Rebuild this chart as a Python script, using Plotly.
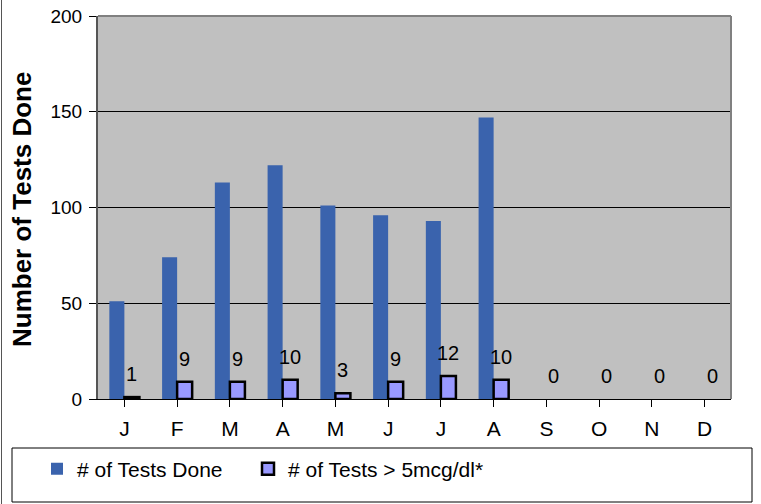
import plotly.graph_objects as go

months = ["J", "F", "M", "A", "M", "J", "J", "A", "S", "O", "N", "D"]
tests_done = [51, 74, 113, 122, 101, 96, 93, 147, None, None, None, None]
tests_high = [1, 9, 9, 10, 3, 9, 12, 10, 0, 0, 0, 0]
y_ticks = [0, 50, 100, 150, 200]

x = list(range(len(months)))

W, H = 761, 504
l, r, t, b = 98, 30, 16, 105
pw, ph = W - l - r, H - t - b
bargap = 0.43
half_bar = (1 - bargap) / 4  # center offset of each bar in a group

def px(xp):
    return (xp - l) / pw

def py(yp):
    return (H - b - yp) / ph

fig = go.Figure()
fig.add_trace(go.Bar(
    x=x, y=tests_done, name="# of Tests Done", legend="legend",
    marker=dict(color="#3A63AD", line=dict(width=0)),
))
fig.add_trace(go.Bar(
    x=x, y=tests_high, name="# of Tests > 5mcg/dl*", legend="legend2",
    marker=dict(color="#9999FF",
                line=dict(color="black", width=[2.5 if v > 0 else 0 for v in tests_high])),
))

annotations = [
    dict(text="<b>Number of Tests Done</b>", xref="paper", yref="paper",
         x=px(22), y=py(210), textangle=-90, showarrow=False,
         font=dict(size=26), xanchor="center", yanchor="middle"),
]
for xi, v in zip(x, tests_high):
    annotations.append(dict(
        x=xi + half_bar, y=v, xref="x", yref="y", text=str(v), showarrow=False,
        xanchor="center", yanchor="bottom", yshift=10,
        font=dict(size=20, color="black"),
    ))

legend_common = dict(orientation="h", xanchor="left", y=py(469), yanchor="middle",
                     font=dict(size=21), bgcolor="rgba(0,0,0,0)", borderwidth=0,
                     itemwidth=30)

fig.update_layout(
    width=W, height=H,
    margin=dict(l=l, r=r, t=t, b=b, autoexpand=False),
    paper_bgcolor="white", plot_bgcolor="#C0C0C0",
    barmode="group", bargap=bargap, bargroupgap=0,
    font=dict(family="Liberation Sans, Arial", color="black"),
    showlegend=True,
    legend=dict(x=px(37), **legend_common),
    legend2=dict(x=px(248), **legend_common),
    xaxis=dict(
        tickmode="array", tickvals=x, ticktext=months, tickson="boundaries",
        range=[-0.5, 11.5], ticks="outside", ticklen=7, tickcolor="black",
        showline=True, linecolor="black", linewidth=1, mirror=False,
        tickfont=dict(size=21), showgrid=False, zeroline=False, automargin=False,
        ticklabelstandoff=4,
    ),
    yaxis=dict(
        range=[0, 200], tickvals=y_ticks, ticks="outside", ticklen=7, tickcolor="black",
        showline=True, linecolor="#555555", linewidth=2,
        showgrid=True, gridcolor="black", gridwidth=1, zeroline=False,
        tickfont=dict(size=19), automargin=False, ticklabelstandoff=3,
    ),
    annotations=annotations,
    shapes=[
        dict(type="line", xref="paper", yref="paper", x0=0, x1=1, y0=1, y1=1,
             line=dict(color="#808080", width=2)),
        dict(type="line", xref="paper", yref="paper", x0=1, x1=1, y0=0, y1=1,
             line=dict(color="#808080", width=2)),
        dict(type="rect", xref="paper", yref="paper", x0=px(12), x1=px(752),
             y0=py(502), y1=py(448), line=dict(color="black", width=1)),
        dict(type="line", xref="paper", yref="paper", x0=px(1.5), x1=px(1.5),
             y0=py(504), y1=py(0), line=dict(color="#555555", width=1)),
    ],
)

fig.write_html("out.html", config={"displayModeBar": False},
               post_script="document.body.style.margin='0px';")
